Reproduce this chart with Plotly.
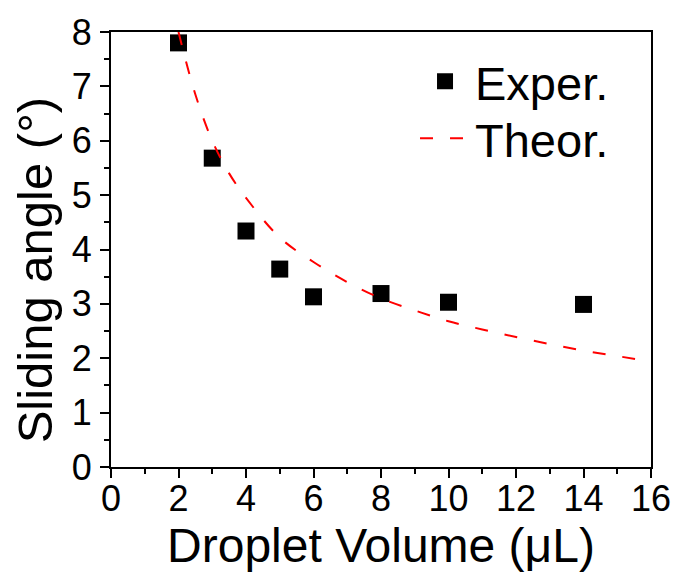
import plotly.graph_objects as go

# Experimental data
exp_volume = [2, 3, 4, 5, 6, 8, 10, 14]
exp_angle = [7.8, 5.68, 4.34, 3.64, 3.13, 3.19, 3.03, 2.99]

# Theoretical curve
theo_volume = [2, 2.5, 3, 3.5, 4, 5, 6, 7, 8, 9, 10, 11, 12, 13, 14, 15, 16]
theo_angle = [8.0, 6.85, 6.0, 5.4, 4.95, 4.22, 3.77, 3.4, 3.1, 2.88, 2.68, 2.53, 2.39, 2.26, 2.14, 2.04, 1.94]

x_ticks = [0, 2, 4, 6, 8, 10, 12, 14, 16]
y_ticks = [0, 1, 2, 3, 4, 5, 6, 7, 8]

FONT = "Liberation Sans, Arial, sans-serif"

fig = go.Figure()
fig.add_trace(go.Scatter(
    x=exp_volume, y=exp_angle, mode="markers", name="Exper.",
    marker=dict(symbol="square", size=17, color="black"),
    legend="legend",
))
fig.add_trace(go.Scatter(
    x=theo_volume, y=theo_angle, mode="lines", name="Theor.",
    line=dict(color="#ff0000", width=2, dash="13px,17px", shape="spline"),
    legend="legend2",
))

axis_common = dict(
    showline=True, linecolor="black", linewidth=2, mirror=True,
    ticks="outside", ticklen=9, tickwidth=2, tickcolor="black",
    showgrid=False, zeroline=False, automargin=False,
    tickfont=dict(family=FONT, size=36, color="black"),
)

legend_common = dict(
    xanchor="left", yanchor="top",
    font=dict(family=FONT, size=47, color="black"),
    bgcolor="rgba(0,0,0,0)", itemwidth=50, borderwidth=0,
)

fig.update_layout(
    template="none",
    width=678, height=573,
    margin=dict(l=111, r=27, t=32, b=106, autoexpand=False),
    paper_bgcolor="white", plot_bgcolor="white",
    font=dict(family=FONT, color="black"),
    showlegend=True,
    legend=dict(x=0.563, y=0.972, **legend_common),
    legend2=dict(x=0.563, y=0.841, **legend_common),
    xaxis=dict(
        range=[0, 16], tickvals=x_ticks, ticktext=[str(v) for v in x_ticks],
        minor=dict(ticks="outside", ticklen=5, tickwidth=2, tickcolor="black", dtick=1),
        title=dict(text="Droplet Volume (μL)", font=dict(family=FONT, size=48, color="black"), standoff=4),
        ticklabelstandoff=-10,
        **axis_common,
    ),
    yaxis=dict(
        range=[0, 8], tickvals=y_ticks, ticktext=[str(v) for v in y_ticks],
        minor=dict(ticks="outside", ticklen=5, tickwidth=2, tickcolor="black", dtick=0.5),
        ticklabelstandoff=1,
        **axis_common,
    ),
    annotations=[dict(
        text="Sliding angle (°)", textangle=-90, showarrow=False,
        xref="paper", yref="paper", x=-0.14, y=0.453,
        xanchor="center", yanchor="middle",
        font=dict(family=FONT, size=49, color="black"),
    )],
)

fig.write_html("out.html")
